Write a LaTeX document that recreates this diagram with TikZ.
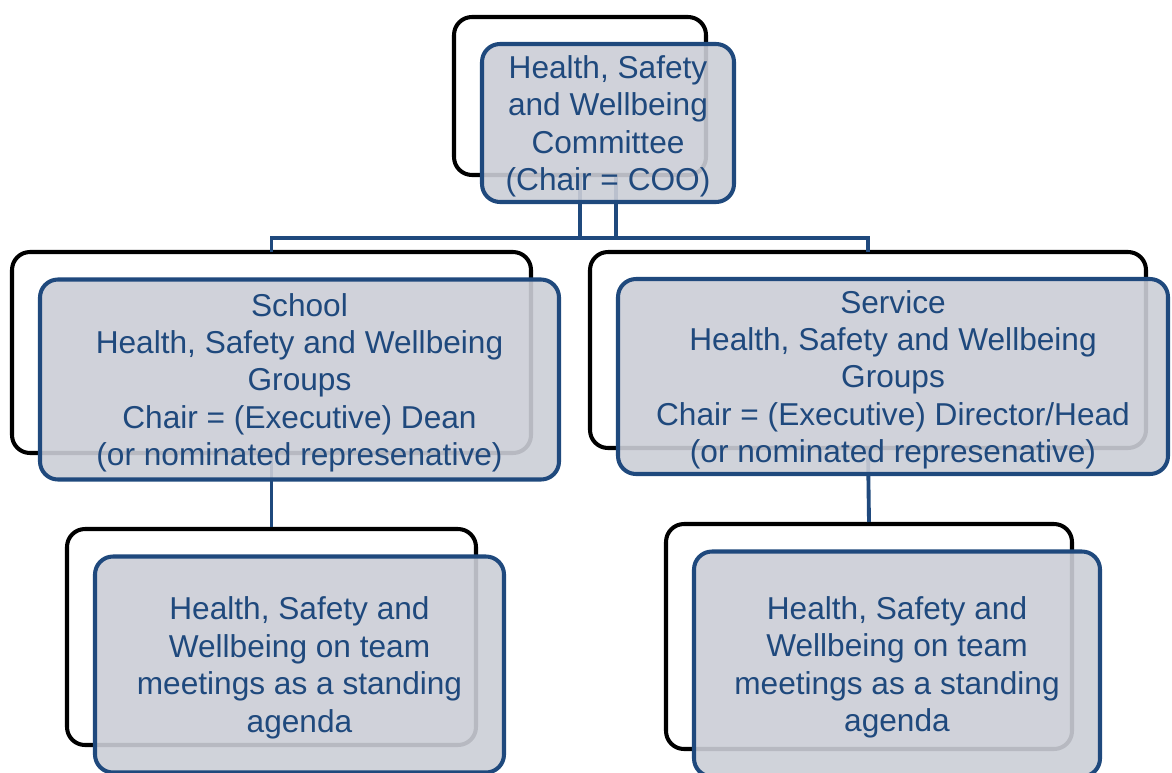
\documentclass[tikz,border=0pt]{standalone}
\usepackage{fontspec}
\setmainfont{Liberation Sans}
\usetikzlibrary{positioning}
\definecolor{hsblue}{RGB}{31,73,125}
\definecolor{hsfill}{RGB}{203,206,214}
\begin{document}
\begin{tikzpicture}[
    backbox/.style={draw=black,line width=2.3pt,fill=white,rounded corners=0.36cm,
      inner sep=0pt},
    frontbox/.style={draw=hsblue,line width=2.3pt,fill=hsfill,fill opacity=0.9,
      text opacity=1,text=hsblue,rounded corners=0.36cm,align=center,inner sep=0pt,
      text depth=-1.9pt,font=\fontsize{18}{21.3}\selectfont},
    link/.style={draw=hsblue,line width=2.2pt}
  ]
  \useasboundingbox (0,0) rectangle (23.44,-15.44);

  \node[backbox,minimum width=5.04cm,minimum height=3.16cm] (topback) at (11.6,-1.92) {};
  \node[backbox,minimum width=10.38cm,minimum height=4.02cm] (schoolback) at (5.43,-7.05) {};
  \node[backbox,minimum width=11.12cm,minimum height=3.92cm] (serviceback) at (17.36,-7.0) {};
  \node[backbox,minimum width=8.18cm,minimum height=4.32cm] (teamLback) at (5.43,-12.74) {};
  \node[backbox,minimum width=8.12cm,minimum height=4.5cm] (teamRback) at (17.38,-12.73) {};

  \coordinate (hbar) at (0,-4.76);
  \coordinate (split) at ([xshift=0.72cm]topback.south);

  % connectors sit behind the front boxes
  \draw[link] (topback.south) -- (topback.south |- hbar) -| ([yshift=-0.04cm]schoolback.north);
  \draw[link] (split) -- (split |- hbar) (topback.south |- hbar) -| ([yshift=-0.04cm]serviceback.north);
  \draw[link] (schoolback.south) -- (teamLback.north);
  \draw[link] (serviceback.south) -- (teamRback.north);

  \node[frontbox,minimum width=5.04cm,minimum height=3.16cm] (topfront)
    at ([shift={(0.56,-0.54)}]topback.center)
    {Health, Safety\\and Wellbeing\\Committee\\(Chair = COO)};
  \node[frontbox,minimum width=10.38cm,minimum height=4.0cm] (schoolfront)
    at ([shift={(0.56,-0.54)}]schoolback.center)
    {School\\Health, Safety and Wellbeing\\Groups\\Chair = (Executive) Dean\\(or nominated represenative)};
  \node[frontbox,minimum width=11.0cm,minimum height=3.9cm] (servicefront)
    at ([shift={(0.5,-0.53)}]serviceback.center)
    {Service\\Health, Safety and Wellbeing\\Groups\\Chair = (Executive) Director/Head\\(or nominated represenative)};
  \node[frontbox,minimum width=8.18cm,minimum height=4.32cm] (teamLfront)
    at ([shift={(0.56,-0.55)}]teamLback.center)
    {Health, Safety and\\Wellbeing on team\\meetings as a standing\\agenda};
  \node[frontbox,minimum width=8.12cm,minimum height=4.5cm] (teamRfront)
    at ([shift={(0.56,-0.55)}]teamRback.center)
    {Health, Safety and\\Wellbeing on team\\meetings as a standing\\agenda};
\end{tikzpicture}
\end{document}
